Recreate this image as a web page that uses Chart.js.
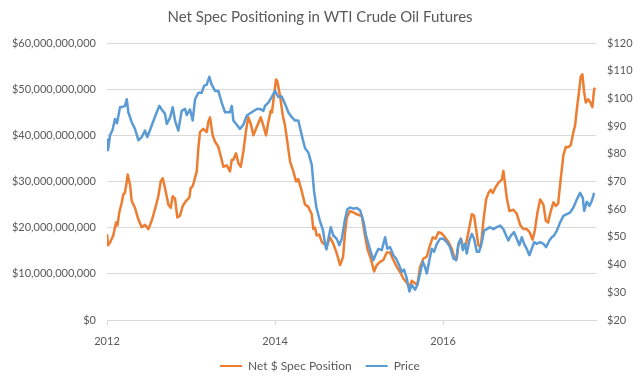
<!DOCTYPE html>
<html lang="en">
<head>
    <meta charset="UTF-8">
    <title>Net Spec Positioning in WTI Crude Oil Futures</title>
    <style>
        html, body {
            margin: 0;
            padding: 0;
            background: #fff;
        }
        #wrap {
            width: 640px;
            height: 384px;
        }
    </style>
    <script src="https://cdn.jsdelivr.net/npm/chart.js"></script>
</head>
<body>
    <div id="wrap"><canvas id="chart"></canvas></div>

    <script>
        // Net speculative position, in billions of dollars (left axis)
        const specDates = [
            2012.000, 2012.012, 2012.036, 2012.075, 2012.107, 2012.125, 2012.146, 2012.175, 2012.194, 2012.214,
            2012.235, 2012.246, 2012.274, 2012.294, 2012.333, 2012.373, 2012.413, 2012.452, 2012.492, 2012.532,
            2012.571, 2012.611, 2012.639, 2012.663, 2012.690, 2012.730, 2012.758, 2012.782, 2012.810, 2012.837,
            2012.869, 2012.901, 2012.932, 2012.956, 2012.980, 2012.996, 2013.020, 2013.036, 2013.068, 2013.087,
            2013.107, 2013.146, 2013.187, 2013.206, 2013.226, 2013.258, 2013.286, 2013.325, 2013.365, 2013.385,
            2013.425, 2013.464, 2013.485, 2013.504, 2013.536, 2013.563, 2013.592, 2013.623, 2013.655, 2013.682,
            2013.711, 2013.742, 2013.782, 2013.830, 2013.861, 2013.893, 2013.920, 2013.949, 2013.964, 2013.980,
            2014.012, 2014.027, 2014.060, 2014.092, 2014.119, 2014.146, 2014.179, 2014.218, 2014.250, 2014.277,
            2014.318, 2014.357, 2014.396, 2014.437, 2014.456, 2014.476, 2014.496, 2014.527, 2014.556, 2014.583,
            2014.615, 2014.655, 2014.694, 2014.735, 2014.774, 2014.810, 2014.833, 2014.854, 2014.893, 2014.932,
            2014.973, 2015.032, 2015.060, 2015.099, 2015.139, 2015.179, 2015.211, 2015.250, 2015.289, 2015.330,
            2015.369, 2015.408, 2015.449, 2015.488, 2015.527, 2015.568, 2015.599, 2015.627, 2015.661, 2015.694,
            2015.726, 2015.765, 2015.806, 2015.837, 2015.877, 2015.911, 2015.944, 2015.982, 2016.024, 2016.063,
            2016.104, 2016.131, 2016.163, 2016.182, 2016.211, 2016.242, 2016.274, 2016.313, 2016.342, 2016.369,
            2016.401, 2016.420, 2016.449, 2016.480, 2016.512, 2016.539, 2016.568, 2016.592, 2016.619, 2016.658,
            2016.699, 2016.718, 2016.758, 2016.789, 2016.837, 2016.877, 2016.920, 2016.956, 2016.996, 2017.030,
            2017.065, 2017.092, 2017.123, 2017.155, 2017.194, 2017.223, 2017.250, 2017.282, 2017.313, 2017.342,
            2017.369, 2017.401, 2017.432, 2017.461, 2017.488, 2017.520, 2017.551, 2017.571, 2017.592, 2017.619,
            2017.639, 2017.658, 2017.679, 2017.699, 2017.726, 2017.750, 2017.777, 2017.798, 2017.810
        ];
        const specValues = [
            18.6, 16.2, 16.8, 18.3, 21.1, 20.5, 23.3, 25.4, 27.2, 27.6,
            30.0, 31.5, 29.3, 25.8, 24.3, 21.8, 20.1, 20.6, 19.7, 21.5,
            24.0, 26.8, 30.0, 30.7, 28.6, 25.0, 24.3, 26.8, 26.3, 22.2,
            22.6, 24.7, 25.6, 26.1, 26.5, 28.6, 29.0, 30.0, 32.2, 37.2,
            40.7, 41.4, 40.7, 42.9, 43.9, 40.0, 38.6, 37.5, 34.7, 33.2,
            33.5, 32.2, 34.7, 34.7, 36.1, 34.0, 33.2, 36.5, 41.1, 43.9,
            42.5, 40.0, 41.8, 43.9, 42.1, 40.0, 42.9, 45.3, 45.0, 47.5,
            52.1, 51.7, 48.5, 44.3, 42.1, 38.6, 34.3, 32.2, 30.0, 30.5,
            27.9, 25.0, 24.5, 22.9, 19.7, 20.0, 18.3, 18.5, 16.9, 16.5,
            16.0, 17.9, 16.5, 14.4, 11.9, 13.7, 19.0, 22.2, 23.6, 23.3,
            22.9, 22.5, 19.4, 15.4, 13.3, 10.5, 11.9, 12.6, 13.0, 14.6,
            14.6, 13.0, 11.5, 10.4, 9.0, 8.1, 7.0, 8.5, 8.0, 7.6,
            11.5, 13.3, 13.7, 15.8, 17.9, 17.6, 19.0, 18.8, 17.9, 16.9,
            15.4, 13.7, 13.3, 16.2, 17.6, 15.8, 16.5, 20.1, 22.9, 22.6,
            18.6, 16.2, 15.8, 21.5, 26.1, 27.5, 28.2, 27.5, 28.6, 29.7,
            30.4, 32.3, 26.5, 23.6, 23.9, 23.0, 20.5, 19.7, 19.7, 19.0,
            17.4, 19.4, 23.3, 26.1, 25.0, 21.5, 21.1, 23.6, 25.5, 24.7,
            25.2, 30.7, 35.7, 37.5, 37.4, 37.9, 40.7, 42.1, 45.7, 49.6,
            52.8, 53.2, 49.3, 47.1, 47.8, 47.2, 46.1, 50.0, 50.3
        ];

        // WTI price, dollars per barrel (right axis)
        const priceDates = [
            2012.000, 2012.012, 2012.036, 2012.065, 2012.095, 2012.119, 2012.155, 2012.190, 2012.214, 2012.235,
            2012.254, 2012.294, 2012.333, 2012.373, 2012.413, 2012.452, 2012.480, 2012.532, 2012.592, 2012.623,
            2012.651, 2012.690, 2012.711, 2012.750, 2012.782, 2012.810, 2012.849, 2012.889, 2012.929, 2012.949,
            2012.988, 2013.020, 2013.048, 2013.087, 2013.127, 2013.155, 2013.187, 2013.218, 2013.246, 2013.286,
            2013.325, 2013.365, 2013.405, 2013.464, 2013.485, 2013.504, 2013.544, 2013.583, 2013.623, 2013.663,
            2013.723, 2013.782, 2013.821, 2013.861, 2013.881, 2013.920, 2013.961, 2014.000, 2014.039, 2014.080,
            2014.119, 2014.158, 2014.199, 2014.238, 2014.277, 2014.318, 2014.357, 2014.396, 2014.437, 2014.464,
            2014.492, 2014.532, 2014.571, 2014.595, 2014.613, 2014.635, 2014.663, 2014.694, 2014.735, 2014.765,
            2014.794, 2014.833, 2014.861, 2014.893, 2014.932, 2014.973, 2015.012, 2015.051, 2015.083, 2015.111,
            2015.139, 2015.170, 2015.202, 2015.230, 2015.270, 2015.310, 2015.337, 2015.369, 2015.408, 2015.440,
            2015.468, 2015.508, 2015.536, 2015.568, 2015.599, 2015.627, 2015.667, 2015.694, 2015.726, 2015.758,
            2015.786, 2015.806, 2015.837, 2015.865, 2015.893, 2015.925, 2015.964, 2016.004, 2016.044, 2016.083,
            2016.123, 2016.155, 2016.182, 2016.211, 2016.235, 2016.262, 2016.282, 2016.313, 2016.342, 2016.369,
            2016.401, 2016.429, 2016.461, 2016.488, 2016.520, 2016.560, 2016.599, 2016.639, 2016.679, 2016.718,
            2016.750, 2016.777, 2016.806, 2016.845, 2016.877, 2016.908, 2016.937, 2016.964, 2016.996, 2017.027,
            2017.056, 2017.083, 2017.115, 2017.155, 2017.194, 2017.226, 2017.265, 2017.294, 2017.321, 2017.354,
            2017.393, 2017.432, 2017.473, 2017.512, 2017.551, 2017.592, 2017.631, 2017.663, 2017.679, 2017.711,
            2017.742, 2017.770, 2017.798
        ];
        const priceValues = [
            85.5, 81.3, 86.7, 88.5, 92.6, 91.0, 96.8, 97.0, 97.3, 99.7,
            95.0, 91.4, 89.0, 84.9, 86.0, 88.4, 86.0, 90.2, 95.0, 97.3,
            96.0, 94.5, 90.8, 93.0, 96.8, 92.0, 88.4, 95.5, 96.2, 94.0,
            96.0, 92.0, 99.7, 102.0, 102.0, 104.5, 105.0, 107.8, 105.0, 102.7,
            102.7, 98.5, 95.0, 95.0, 97.3, 92.0, 90.5, 89.0, 90.5, 93.8,
            95.0, 96.2, 96.2, 95.5, 97.3, 98.5, 100.5, 102.7, 100.5, 100.7,
            98.0, 95.0, 93.2, 92.0, 92.0, 86.7, 82.0, 80.5, 76.0, 66.6,
            60.6, 56.0, 52.4, 47.5, 45.5, 49.3, 53.5, 50.5, 49.3, 47.0,
            49.3, 56.4, 60.0, 60.6, 60.2, 60.4, 59.6, 55.8, 50.5, 47.5,
            44.6, 41.6, 43.9, 45.7, 45.2, 49.9, 45.7, 46.3, 43.4, 42.2,
            40.4, 37.4, 38.2, 35.0, 30.3, 32.7, 30.9, 32.7, 36.8, 41.0,
            39.0, 36.8, 41.6, 45.7, 44.6, 47.5, 49.3, 49.3, 48.1, 46.3,
            42.2, 41.6, 47.5, 49.3, 45.2, 47.5, 44.0, 48.7, 51.1, 49.3,
            44.6, 44.6, 48.1, 52.3, 52.8, 53.5, 52.8, 53.5, 54.1, 52.8,
            50.5, 48.7, 50.5, 51.7, 49.3, 47.0, 49.9, 47.5, 45.7, 43.4,
            45.7, 48.1, 47.5, 48.1, 47.5, 46.3, 48.7, 49.9, 50.5, 52.3,
            55.2, 57.6, 58.2, 58.8, 60.6, 63.5, 65.9, 64.1, 59.4, 62.7,
            61.2, 63.0, 65.9
        ];

        const yearTicks = [2012, 2014, 2016];

        function toPoints(xs, ys) {
            return xs.map((x, i) => ({ x: x, y: ys[i] }));
        }

        const grey = '#595959';
        const gridGrey = '#d9d9d9';
        Chart.defaults.font.family = 'Lato, "Open Sans", sans-serif';
        Chart.defaults.color = grey;

        new Chart(document.getElementById('chart'), {
            type: 'line',
            data: {
                datasets: [{
                    label: 'Net $ Spec Position',
                    data: toPoints(specDates, specValues),
                    borderColor: '#ED7D31',
                    backgroundColor: '#ED7D31',
                    borderWidth: 2.5,
                    borderJoinStyle: 'round',
                    pointRadius: 0,
                    tension: 0,
                    yAxisID: 'y',
                    order: 1
                }, {
                    label: 'Price',
                    data: toPoints(priceDates, priceValues),
                    borderColor: '#5B9BD5',
                    backgroundColor: '#5B9BD5',
                    borderWidth: 2.5,
                    borderJoinStyle: 'round',
                    pointRadius: 0,
                    tension: 0,
                    yAxisID: 'y2',
                    order: 0
                }]
            },
            options: {
                responsive: true,
                maintainAspectRatio: false,
                animation: false,
                layout: { padding: { left: 0, right: 0, top: 0, bottom: 2 } },
                plugins: {
                    title: {
                        display: true,
                        text: 'Net Spec Positioning in WTI Crude Oil Futures',
                        color: grey,
                        font: { size: 15, weight: 'normal' },
                        padding: { top: 8, bottom: 17 }
                    },
                    legend: {
                        position: 'bottom',
                        labels: {
                            boxWidth: 22,
                            boxHeight: 2,
                            padding: 14,
                            color: grey,
                            font: { size: 12 },
                            sort: (a, b) => a.datasetIndex - b.datasetIndex,
                            generateLabels: chart => Chart.defaults.plugins.legend.labels
                                .generateLabels(chart).map(l => Object.assign(l, { lineWidth: 0 }))
                        }
                    },
                    tooltip: { enabled: false }
                },
                scales: {
                    x: {
                        type: 'linear',
                        min: 2012,
                        max: 2017.82,
                        afterFit: s => { s.height = 26; },
                        afterBuildTicks: s => { s.ticks = yearTicks.map(v => ({ value: v })); },
                        ticks: {
                            callback: v => String(v),
                            font: { size: 11 },
                            padding: 10,
                            maxRotation: 0
                        },
                        grid: {
                            drawOnChartArea: false,
                            tickLength: 5,
                            color: gridGrey
                        },
                        border: { color: gridGrey }
                    },
                    y: {
                        position: 'left',
                        min: 0,
                        max: 60,
                        afterFit: s => { s.width = 107; },
                        ticks: {
                            stepSize: 10,
                            autoSkip: false,
                            padding: 11,
                            font: { size: 11 },
                            callback: v => '$' + (v * 1e9).toLocaleString('en-US')
                        },
                        grid: { color: gridGrey, drawTicks: false },
                        border: { display: false }
                    },
                    y2: {
                        position: 'right',
                        min: 20,
                        max: 120,
                        afterFit: s => { s.width = 44; },
                        ticks: {
                            stepSize: 10,
                            autoSkip: false,
                            padding: 11,
                            font: { size: 11 },
                            callback: v => '$' + v
                        },
                        grid: { display: false, drawTicks: false },
                        border: { display: false }
                    }
                }
            }
        });
    </script>
</body>
</html>
